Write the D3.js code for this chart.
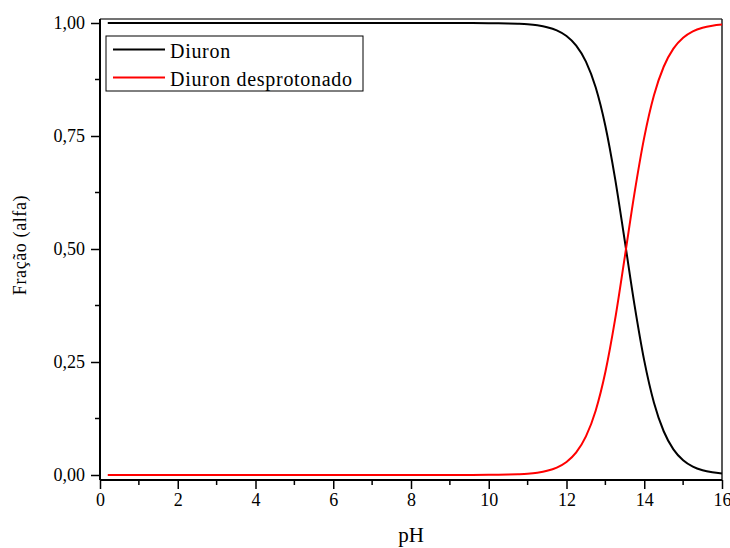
<!DOCTYPE html>
<html><head><meta charset="utf-8">
<script src="https://cdn.jsdelivr.net/npm/d3@7"></script>
<style>
html,body{margin:0;padding:0;background:#fff;}
svg{display:block;}
</style></head>
<body>
<svg id="chart" width="730" height="548"></svg>
<script>
// Data
const pH = [0.2, 1, 2, 3, 4, 5, 6, 7, 8, 9, 9.5, 10, 10.25, 10.5, 10.75, 11, 11.25, 11.5, 11.75, 12, 12.25, 12.5, 12.75, 13, 13.25, 13.5, 13.75, 14, 14.25, 14.5, 14.75, 15, 15.25, 15.5, 15.75, 16];
const diuron = [1, 1, 1, 1, 1, 1, 1, 1, 1, 1, 0.9999, 0.9997, 0.9995, 0.9991, 0.9983, 0.9971, 0.9948, 0.9908, 0.9837, 0.9713, 0.9501, 0.9147, 0.8577, 0.7722, 0.6558, 0.5173, 0.376, 0.2531, 0.160, 0.0968, 0.0568, 0.0328, 0.0187, 0.0106, 0.006, 0.0034];
const diuronDesprot = [0, 0, 0, 0, 0, 0, 0, 0, 0, 0, 0.0001, 0.0003, 0.0005, 0.0009, 0.0017, 0.0029, 0.0052, 0.0092, 0.0163, 0.0287, 0.0499, 0.0853, 0.1423, 0.2278, 0.3442, 0.4827, 0.624, 0.7469, 0.840, 0.9032, 0.9432, 0.9672, 0.9813, 0.9894, 0.9940, 0.9966];
const seriesNames = ["Diuron", "Diuron desprotonado"];
const seriesColors = ["#000000", "#ff0000"];
const xTicks = [0, 2, 4, 6, 8, 10, 12, 14, 16];
const xMinor = [1, 3, 5, 7, 9, 11, 13, 15];
const yTicks = [0, 0.25, 0.5, 0.75, 1];
const yTickLabels = ["0,00", "0,25", "0,50", "0,75", "1,00"];
const yMinor = [0.125, 0.375, 0.625, 0.875];
const xTitle = "pH";
const yTitle = "Fração (alfa)";

const FONT = '"Liberation Serif", "Times New Roman", Tinos, serif';
const svg = d3.select("#chart");
const pLeft = 100, pRight = 722, pTop = 19, pBottom = 480;
const x = d3.scaleLinear().domain([0, 16]).range([pLeft, pRight]);
const y = d3.scaleLinear().domain([0, 1]).range([475, 23]);

// frame top & right
svg.append("line").attr("x1", pLeft).attr("x2", pRight).attr("y1", pTop).attr("y2", pTop)
  .attr("stroke", "#444").attr("stroke-width", 1.5);
svg.append("line").attr("x1", pRight).attr("x2", pRight).attr("y1", pTop).attr("y2", pBottom)
  .attr("stroke", "#222").attr("stroke-width", 1.5);

// x axis
const xAxis = svg.append("g").attr("transform", `translate(0,${pBottom})`);
xAxis.call(d3.axisBottom(x).tickValues(xTicks).tickFormat(d3.format("d")).tickSize(9).tickPadding(4));
xAxis.append("g").selectAll("line").data(xMinor).join("line")
  .attr("x1", d => x(d)).attr("x2", d => x(d)).attr("y1", 0).attr("y2", 5)
  .attr("stroke", "#000").attr("stroke-width", 1.5);
xAxis.select(".domain").attr("stroke-width", 2).attr("d", `M${pLeft},0H${pRight}`);
xAxis.selectAll(".tick line").attr("stroke-width", 1.5);
xAxis.selectAll(".tick text").style("font-family", FONT).style("font-size", "18px").attr("fill", "#000");

// y axis
const yAxis = svg.append("g").attr("transform", `translate(${pLeft},0)`);
yAxis.call(d3.axisLeft(y).tickValues(yTicks).tickFormat((d, i) => yTickLabels[i]).tickSize(9).tickPadding(6));
yAxis.append("g").selectAll("line").data(yMinor).join("line")
  .attr("y1", d => y(d)).attr("y2", d => y(d)).attr("x1", 0).attr("x2", -5)
  .attr("stroke", "#000").attr("stroke-width", 1.5);
yAxis.select(".domain").attr("stroke-width", 2).attr("d", `M0,${pTop}V${pBottom}`);
yAxis.selectAll(".tick line").attr("stroke-width", 1.5);
yAxis.selectAll(".tick text").style("font-family", FONT).style("font-size", "18px").attr("fill", "#000");

// curves
const series = [diuron, diuronDesprot];
const line = d3.line().x((d, i) => x(pH[i])).y(d => y(d)).curve(d3.curveMonotoneX);
series.forEach((s, k) => {
  svg.append("path").datum(s).attr("d", line).attr("fill", "none")
    .attr("stroke", seriesColors[k]).attr("stroke-width", 2);
});

// legend
const lg = svg.append("g");
lg.append("rect").attr("x", 106).attr("y", 36).attr("width", 257).attr("height", 55)
  .attr("fill", "#fff").attr("stroke", "#000").attr("stroke-width", 1);
seriesNames.forEach((n, k) => {
  const yy = 49.5 + k * 28;
  lg.append("line").attr("x1", 113).attr("x2", 165).attr("y1", yy).attr("y2", yy)
    .attr("stroke", seriesColors[k]).attr("stroke-width", 2);
  lg.append("text").attr("x", 170).attr("y", yy + 8.5)
    .style("font-family", FONT).style("font-size", "20px").style("letter-spacing", "0.7px")
    .attr("fill", "#000").text(n);
});

// titles
svg.append("text").attr("x", 411).attr("y", 542).attr("text-anchor", "middle")
  .style("font-family", FONT).style("font-size", "21px").attr("fill", "#000").text(xTitle);
svg.append("text").attr("transform", "translate(26,245) rotate(-90)").attr("text-anchor", "middle")
  .style("font-family", FONT).style("font-size", "18px").style("letter-spacing", "0.6px")
  .attr("fill", "#000").text(yTitle);
</script>
</body></html>
